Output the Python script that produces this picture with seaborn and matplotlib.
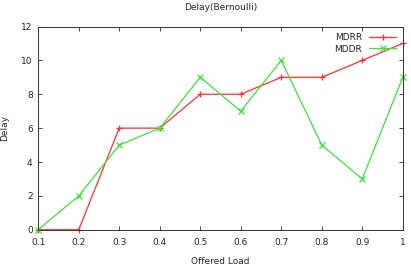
import matplotlib
matplotlib.use("Agg")
import matplotlib.pyplot as plt
import pandas as pd
import seaborn as sns

loads = [0.1, 0.2, 0.3, 0.4, 0.5, 0.6, 0.7, 0.8, 0.9, 1.0]
mdrr = [0, 0, 6, 6, 8, 8, 9, 9, 10, 11]
mddr = [0, 2, 5, 6, 9, 7, 10, 5, 3, 9]
x_ticks = [0.1, 0.2, 0.3, 0.4, 0.5, 0.6, 0.7, 0.8, 0.9, 1.0]
x_labels = ["0.1", "0.2", "0.3", "0.4", "0.5", "0.6", "0.7", "0.8", "0.9", "1"]
y_ticks = [0, 2, 4, 6, 8, 10, 12]

df = pd.DataFrame({
    "load": loads * 2,
    "delay": mdrr + mddr,
    "scheme": ["MDRR"] * len(loads) + ["MDDR"] * len(loads),
})

sns.set_style("ticks")
plt.rcParams["font.family"] = ["DejaVu Sans"]

fig, ax = plt.subplots(figsize=(4.11, 2.65), dpi=100)
sns.lineplot(
    data=df, x="load", y="delay", hue="scheme", style="scheme",
    palette={"MDRR": "#ff3030", "MDDR": "#40e040"},
    markers={"MDRR": "+", "MDDR": "x"}, dashes=False,
    linewidth=0.9, markersize=5, markeredgewidth=0.9, ax=ax,
)

ax.set_xlim(0.1, 1.0)
ax.set_ylim(0, 12)
ax.set_xticks(x_ticks)
ax.set_xticklabels(x_labels)
ax.set_yticks(y_ticks)
ax.tick_params(direction="in", top=True, right=True, labelsize=6.5, length=3,
               width=0.6)
ax.tick_params(axis="x", pad=6)
ax.tick_params(axis="y", pad=4)
for s in ax.spines.values():
    s.set_linewidth(0.7)
    s.set_color("#333333")

ax.set_title("Delay(Bernoulli)", fontsize=6.5, pad=12)
ax.set_xlabel("Offered Load", fontsize=6.5, labelpad=7)
ax.set_ylabel("Delay", fontsize=6.5, labelpad=9)

leg = ax.legend(loc="upper right", frameon=False, fontsize=6.5, markerfirst=False,
                handlelength=3, numpoints=1, borderaxespad=0.3, labelspacing=0.3,
                title=None)

# seaborn paints marker edges white; gnuplot style wants them in line colour
for ln in list(ax.lines) + list(leg.get_lines()):
    ln.set_markeredgecolor(ln.get_color())
    ln.set_clip_on(False)

fig.subplots_adjust(left=0.093, right=0.98, top=0.9, bottom=0.133)
fig.savefig("out.png", dpi=100)
